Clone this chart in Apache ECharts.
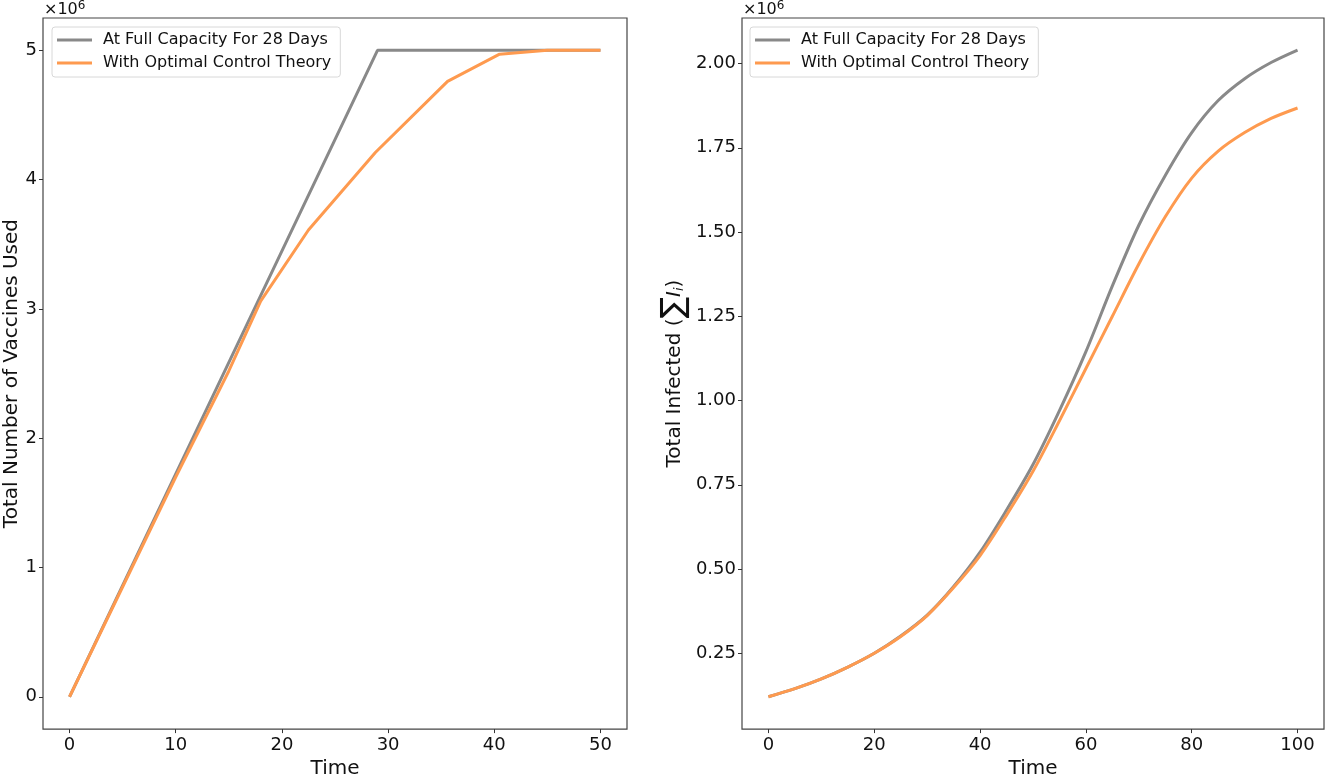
<!DOCTYPE html>
<html>
<head>
    <meta charset="UTF-8">
    <title>Vaccines and infections</title>
    <script type="text/javascript" src="https://cdn.jsdelivr.net/npm/echarts@6/dist/echarts.min.js"></script>
    <style>
        body {
            margin: 0;
            padding: 0;
            background-color: #fff;
        }
    </style>
</head>
<body>
<div id="chart" style="width:1325px; height:784px;"></div>

<script>
    // values in units of 1e6
    var fullDays = [0, 29, 50];
    var fullVaccines = [0, 5, 5];
    var optDays = [0, 10, 15, 18, 22.5, 28.8, 35.6, 40.5, 45, 50];
    var optVaccines = [0, 1.70, 2.52, 3.06, 3.61, 4.21, 4.76, 4.97, 5.0, 5.0];

    var infDays = [0, 5, 10, 15, 20, 25, 30, 35, 40, 45, 50, 55, 60, 65, 70, 75, 80, 85, 90, 95, 100];
    var infFull = [0.121, 0.145, 0.174, 0.209, 0.25, 0.301, 0.363, 0.448, 0.55, 0.675, 0.81, 0.97, 1.145, 1.34, 1.52, 1.668, 1.795, 1.89, 1.955, 2.003, 2.04];
    var infOpt = [0.121, 0.145, 0.174, 0.209, 0.25, 0.3, 0.362, 0.445, 0.54, 0.66, 0.79, 0.94, 1.095, 1.25, 1.405, 1.545, 1.66, 1.74, 1.795, 1.837, 1.868];

    var leftXTicks = [0, 10, 20, 30, 40, 50];
    var leftYTicks = [0, 1, 2, 3, 4, 5];
    var rightXTicks = [0, 20, 40, 60, 80, 100];
    var rightYTicks = [0.25, 0.5, 0.75, 1.0, 1.25, 1.5, 1.75, 2.0];

    var nameFull = 'At Full Capacity For 28 Days';
    var nameOpt = 'With Optimal Control Theory';
    var grey = '#898989';
    var orange = '#fe9a4f';
    var font = 'DejaVu Sans';

    function pairs(xs, ys) {
        return xs.map(function (x, i) { return [x, ys[i]]; });
    }

    function xAxis(idx, min, max, ticks) {
        return {
            type: 'value', gridIndex: idx, min: min, max: max,
            name: 'Time', nameLocation: 'middle', nameGap: 26,
            nameTextStyle: {fontFamily: font, fontSize: 20, color: '#111'},
            axisLine: {show: false, onZero: false},
            splitLine: {show: false},
            axisTick: {show: true, length: 4, inside: false, customValues: ticks, lineStyle: {color: '#333'}},
            axisLabel: {customValues: ticks, fontFamily: font, fontSize: 18, color: '#111', margin: 7}
        };
    }

    function yAxis(idx, min, max, ticks, fmt, name, gap) {
        return {
            type: 'value', gridIndex: idx, min: min, max: max,
            name: name, nameLocation: 'middle', nameGap: gap, nameRotate: 90,
            nameTextStyle: {
                fontFamily: font, fontSize: 20, color: '#111',
                rich: {
                    sum: {fontFamily: font, fontSize: 32, color: '#111'},
                    it: {fontFamily: font, fontSize: 20, fontStyle: 'italic', color: '#111'},
                    sub: {fontFamily: font, fontSize: 13, fontStyle: 'italic', color: '#111', padding: [10, 0, 0, 0]}
                }
            },
            axisLine: {show: false, onZero: false},
            splitLine: {show: false},
            axisTick: {show: true, length: 4, inside: false, customValues: ticks, lineStyle: {color: '#333'}},
            axisLabel: {customValues: ticks, formatter: fmt, fontFamily: font, fontSize: 18, color: '#111', margin: 6}
        };
    }

    function line(name, color, x, y, data, smooth) {
        return {
            name: name, type: 'line', xAxisIndex: x, yAxisIndex: y,
            data: data, symbol: 'none', smooth: smooth,
            lineStyle: {color: color, width: 3}, itemStyle: {color: color},
            z: name === nameOpt ? 3 : 2
        };
    }

    function legend(left) {
        return {
            data: [nameFull, nameOpt], orient: 'vertical', left: left, top: 27,
            icon: 'rect', itemWidth: 35, itemHeight: 3, itemGap: 7,
            padding: [5, 9, 6, 5],
            backgroundColor: '#fff', borderColor: '#d8d8d8', borderWidth: 1, borderRadius: 3,
            textStyle: {fontFamily: font, fontSize: 16, color: '#111', padding: [0, 0, 0, 6]},
            selectedMode: false
        };
    }

    function offsetText(left) {
        return {
            type: 'text', left: left, top: 0,
            style: {
                text: '×10{sup|6}', fontFamily: font, fontSize: 16, fill: '#111',
                rich: {sup: {fontFamily: font, fontSize: 12, fill: '#111', padding: [0, 0, 8, 0]}}
            }
        };
    }

    var chart = echarts.init(document.getElementById('chart'), null, {renderer: 'canvas'});
    chart.setOption({
        animation: false,
        backgroundColor: '#fff',
        grid: [
            {left: 43, right: 698, top: 18, bottom: 46, show: true, borderColor: '#444', borderWidth: 1.2, backgroundColor: 'transparent'},
            {left: 742, right: 1, top: 18, bottom: 46, show: true, borderColor: '#444', borderWidth: 1.2, backgroundColor: 'transparent'}
        ],
        xAxis: [
            xAxis(0, -2.5, 52.5, leftXTicks),
            xAxis(1, -5, 105, rightXTicks)
        ],
        yAxis: [
            yAxis(0, -0.25, 5.25, leftYTicks, function (v) { return String(v); }, 'Total Number of Vaccines Used', 17),
            yAxis(1, 0.025, 2.135, rightYTicks, function (v) { return v.toFixed(2); },
                'Total Infected ({sum|∑}{it|I}{sub|i})', 51)
        ],
        legend: [legend(52), legend(750)],
        graphic: [offsetText(44), offsetText(743)],
        series: [
            line(nameFull, grey, 0, 0, pairs(fullDays, fullVaccines), false),
            line(nameOpt, orange, 0, 0, pairs(optDays, optVaccines), false),
            line(nameFull, grey, 1, 1, pairs(infDays, infFull), 0.3),
            line(nameOpt, orange, 1, 1, pairs(infDays, infOpt), 0.3)
        ]
    });
</script>
</body>
</html>
